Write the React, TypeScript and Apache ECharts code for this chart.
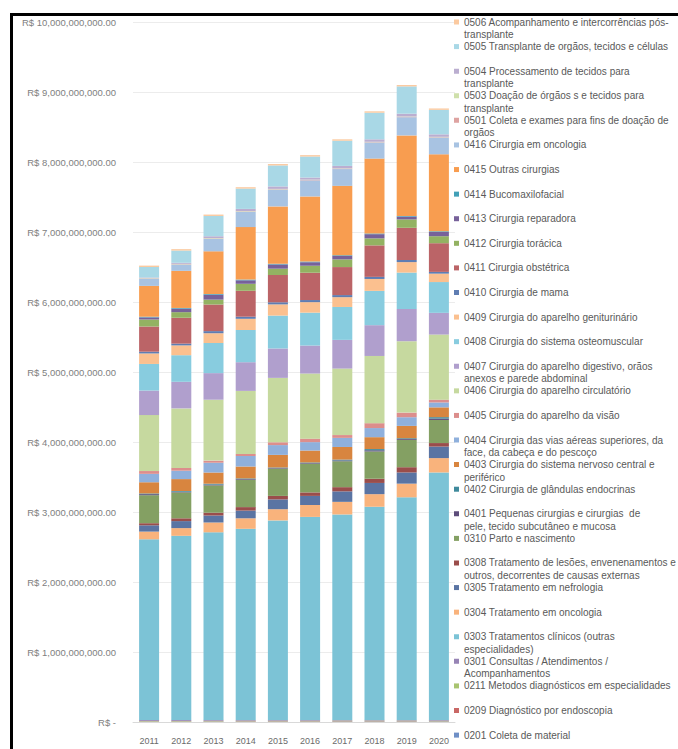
import React, { useEffect, useRef } from "react";
import * as echarts from "echarts";

// ---------- DATA (values in billions of R$) ----------
const years = ["2011", "2012", "2013", "2014", "2015", "2016", "2017", "2018", "2019", "2020"];

const yTickValues = [0, 1, 2, 3, 4, 5, 6, 7, 8, 9, 10]; // billions

// series names, bottom of the stack first
const seriesNames = [
  "0201 Coleta de material",
  "0209 Diagnóstico por endoscopia",
  "0211 Metodos diagnósticos em especialidades",
  "0301 Consultas / Atendimentos / Acompanhamentos",
  "0303 Tratamentos clínicos (outras especialidades)",
  "0304 Tratamento em oncologia",
  "0305 Tratamento em nefrologia",
  "0308 Tratamento de lesões, envenenamentos e outros, decorrentes de causas externas",
  "0310 Parto e nascimento",
  "0401 Pequenas cirurgias e cirurgias  de pele, tecido subcutâneo e mucosa",
  "0402 Cirurgia de glândulas endocrinas",
  "0403 Cirurgia do sistema nervoso central e periférico",
  "0404 Cirurgia das vias aéreas superiores, da face, da cabeça e do pescoço",
  "0405 Cirurgia do aparelho da visão",
  "0406 Cirurgia do aparelho circulatório",
  "0407 Cirurgia do aparelho digestivo, orãos anexos e parede abdominal",
  "0408 Cirurgia do sistema osteomuscular",
  "0409 Cirurgia do aparelho geniturinário",
  "0410 Cirurgia de mama",
  "0411 Cirurgia obstétrica",
  "0412 Cirurgia torácica",
  "0413 Cirurgia reparadora",
  "0414 Bucomaxilofacial",
  "0415 Outras cirurgias",
  "0416 Cirurgia em oncologia",
  "0501 Coleta e exames para fins de doação de orgãos",
  "0503 Doação de órgãos s e tecidos para transplante",
  "0504 Processamento de tecidos para transplante",
  "0505 Transplante de orgãos, tecidos e células",
  "0506 Acompanhamento e intercorrências pós-transplante",
];

// legend labels as wrapped in the picture (same order)
const legendLabels = [
  "0201 Coleta de material",
  "0209 Diagnóstico por endoscopia",
  "0211 Metodos diagnósticos em especialidades",
  "0301 Consultas / Atendimentos /\nAcompanhamentos",
  "0303 Tratamentos clínicos (outras\nespecialidades)",
  "0304 Tratamento em oncologia",
  "0305 Tratamento em nefrologia",
  "0308 Tratamento de lesões, envenenamentos e\noutros, decorrentes de causas externas",
  "0310 Parto e nascimento",
  "0401 Pequenas cirurgias e cirurgias  de\npele, tecido subcutâneo e mucosa",
  "0402 Cirurgia de glândulas endocrinas",
  "0403 Cirurgia do sistema nervoso central e\nperiférico",
  "0404 Cirurgia das vias aéreas superiores, da\nface, da cabeça e do pescoço",
  "0405 Cirurgia do aparelho da visão",
  "0406 Cirurgia do aparelho circulatório",
  "0407 Cirurgia do aparelho digestivo, orãos\nanexos e parede abdominal",
  "0408 Cirurgia do sistema osteomuscular",
  "0409 Cirurgia do aparelho geniturinário",
  "0410 Cirurgia de mama",
  "0411 Cirurgia obstétrica",
  "0412 Cirurgia torácica",
  "0413 Cirurgia reparadora",
  "0414 Bucomaxilofacial",
  "0415 Outras cirurgias",
  "0416 Cirurgia em oncologia",
  "0501 Coleta e exames para fins de doação de\norgãos",
  "0503 Doação de órgãos s e tecidos para\ntransplante",
  "0504 Processamento de tecidos para\ntransplante",
  "0505 Transplante de orgãos, tecidos e células",
  "0506 Acompanhamento e intercorrências pós-\ntransplante",
];

const v0201 = [0.004, 0.004, 0.005, 0.005, 0.005, 0.005, 0.006, 0.006, 0.006, 0.006];
const v0209 = [0.004, 0.004, 0.004, 0.005, 0.005, 0.005, 0.005, 0.005, 0.005, 0.004];
const v0211 = [0.008, 0.008, 0.009, 0.009, 0.009, 0.009, 0.01, 0.01, 0.01, 0.009];
const v0301 = [0.014, 0.014, 0.012, 0.011, 0.011, 0.011, 0.009, 0.009, 0.009, 0.011];
const v0303 = [2.58, 2.63, 2.68, 2.73, 2.85, 2.9, 2.935, 3.045, 3.18, 3.535];
const v0304 = [0.11, 0.11, 0.14, 0.15, 0.16, 0.17, 0.18, 0.18, 0.195, 0.205];
const v0305 = [0.09, 0.1, 0.1, 0.11, 0.14, 0.13, 0.15, 0.16, 0.16, 0.165];
const v0308 = [0.03, 0.04, 0.04, 0.05, 0.05, 0.05, 0.06, 0.06, 0.075, 0.05];
const v0310 = [0.4, 0.37, 0.39, 0.39, 0.39, 0.41, 0.37, 0.39, 0.39, 0.33];
const v0401 = [0.015, 0.01, 0.012, 0.01, 0.008, 0.009, 0.012, 0.017, 0.012, 0.02];
const v0402 = [0.01, 0.01, 0.012, 0.01, 0.008, 0.009, 0.012, 0.017, 0.012, 0.02];
const v0403 = [0.16, 0.17, 0.16, 0.17, 0.18, 0.17, 0.18, 0.17, 0.176, 0.14];
const v0404 = [0.12, 0.12, 0.14, 0.15, 0.14, 0.12, 0.13, 0.13, 0.124, 0.07];
const v0405 = [0.04, 0.04, 0.03, 0.03, 0.04, 0.05, 0.04, 0.07, 0.066, 0.04];
const v0406 = [0.8, 0.85, 0.87, 0.9, 0.92, 0.93, 0.95, 0.96, 1.02, 0.93];
const v0407 = [0.35, 0.38, 0.38, 0.41, 0.42, 0.4, 0.41, 0.44, 0.46, 0.31];
const v0408 = [0.38, 0.38, 0.43, 0.46, 0.47, 0.47, 0.47, 0.49, 0.52, 0.44];
const v0409 = [0.15, 0.14, 0.14, 0.16, 0.16, 0.15, 0.14, 0.17, 0.15, 0.12];
const v0410 = [0.025, 0.025, 0.03, 0.03, 0.03, 0.03, 0.03, 0.03, 0.03, 0.025];
const v0411 = [0.36, 0.37, 0.38, 0.37, 0.39, 0.39, 0.4, 0.45, 0.46, 0.41];
const v0412 = [0.1, 0.08, 0.07, 0.1, 0.09, 0.1, 0.11, 0.1, 0.12, 0.1];
const v0413 = [0.03, 0.05, 0.07, 0.05, 0.06, 0.05, 0.05, 0.06, 0.04, 0.06];
const v0414 = [0.01, 0.01, 0.01, 0.01, 0.01, 0.01, 0.01, 0.01, 0.01, 0.01];
const v0415 = [0.44, 0.53, 0.61, 0.75, 0.82, 0.93, 0.99, 1.07, 1.15, 1.1];
const v0416 = [0.1, 0.09, 0.18, 0.22, 0.24, 0.23, 0.24, 0.23, 0.26, 0.24];
const v0501 = [0.005, 0.005, 0.005, 0.005, 0.005, 0.005, 0.005, 0.005, 0.005, 0.005];
const v0503 = [0.005, 0.005, 0.005, 0.005, 0.005, 0.005, 0.005, 0.005, 0.005, 0.005];
const v0504 = [0.01, 0.015, 0.025, 0.03, 0.035, 0.03, 0.035, 0.035, 0.04, 0.035];
const v0505 = [0.15, 0.175, 0.29, 0.29, 0.3, 0.3, 0.36, 0.38, 0.39, 0.35];
const v0506 = [0.02, 0.02, 0.02, 0.02, 0.02, 0.02, 0.02, 0.02, 0.02, 0.02];

const seriesValues = [
  v0201, v0209, v0211, v0301, v0303, v0304, v0305, v0308, v0310, v0401,
  v0402, v0403, v0404, v0405, v0406, v0407, v0408, v0409, v0410, v0411,
  v0412, v0413, v0414, v0415, v0416, v0501, v0503, v0504, v0505, v0506,
];

const seriesColors = [
  "#6f8fc6", "#c96765", "#a9c470", "#9784b5", "#7cc3d6", "#f9b37c",
  "#5a74a3", "#9a4d4b", "#84a063", "#5d4c7a", "#3f8a9c", "#d8853f",
  "#8fb0dc", "#dc8e8c", "#c6d99f", "#b09fcd", "#88ccdf", "#fbc08f",
  "#5f7db2", "#bb6467", "#93b262", "#77619a", "#42a0b7", "#f89d50",
  "#a8c3e2", "#dea3a1", "#cfe0ab", "#bbaed0", "#a9d8e6", "#fbcaa0",
];

const FONT = "Liberation Sans";

function formatBRL(v: number): string {
  if (v === 0) return "R$ -";
  const s = Math.round(v).toString().replace(/\B(?=(\d{3})+(?!\d))/g, ",");
  return "R$ " + s + ".00";
}

export default function App() {
  const ref = useRef<HTMLDivElement>(null);

  useEffect(() => {
    if (!ref.current) return;
    const chart = echarts.init(ref.current, undefined, { renderer: "svg" });

    const n = seriesNames.length;
    const legends = seriesNames.map((name, i) => {
      const row = n - 1 - i;
      const yc = 22 + 24.59 * row;
      const twoLine = legendLabels[i].includes("\n");
      return {
        show: true,
        data: [name],
        left: 454,
        top: yc - 6.25,
        orient: "vertical",
        padding: 0,
        itemWidth: 5,
        itemHeight: twoLine ? 17.5 : 5,
        // for wrapped labels the square sits beside the first line
        icon: twoLine ? "path://M0,0L5,0L5,5L0,5Z M0,17.5L5,17.5" : "rect",
        itemStyle: { borderWidth: 0 },
        selectedMode: false,
        formatter: () => legendLabels[i],
        textStyle: {
          fontFamily: FONT,
          fontSize: 10,
          color: "#595959",
          lineHeight: 12.5,
        },
      };
    });

    chart.setOption({
      animation: false,
      backgroundColor: "#ffffff",
      grid: { left: 133, right: 223, top: 22, bottom: 27 },
      legend: legends,
      xAxis: {
        type: "category",
        data: years,
        axisTick: { show: false },
        axisLine: { show: true, lineStyle: { color: "#d9d9d9" } },
        axisLabel: { fontFamily: FONT, fontSize: 9, color: "#6b6b6b", margin: 14 },
      },
      yAxis: {
        type: "value",
        min: yTickValues[0] * 1e9,
        max: yTickValues[yTickValues.length - 1] * 1e9,
        interval: 1e9,
        axisLine: { show: false },
        axisTick: { show: false },
        splitLine: { lineStyle: { color: "#ececec" } },
        axisLabel: {
          fontFamily: FONT,
          fontSize: 9.5,
          color: "#808080",
          margin: 17,
          formatter: (v: number) => formatBRL(v),
        },
      },
      series: seriesNames.map((name, i) => ({
        name,
        type: "bar",
        stack: "total",
        barWidth: 20,
        itemStyle: { color: seriesColors[i] },
        data: seriesValues[i].map((v) => v * 1e9),
      })),
      graphic: [
        { type: "rect", shape: { x: 10, y: 13, width: 668, height: 3 }, style: { fill: "#000" }, z: 100 },
        { type: "rect", shape: { x: 10, y: 13, width: 3, height: 736 }, style: { fill: "#000" }, z: 100 },
      ],
    });

    return () => chart.dispose();
  }, []);

  return (
    <div
      ref={ref}
      style={{ position: "absolute", left: 0, top: 0, width: 678, height: 749 }}
    />
  );
}
